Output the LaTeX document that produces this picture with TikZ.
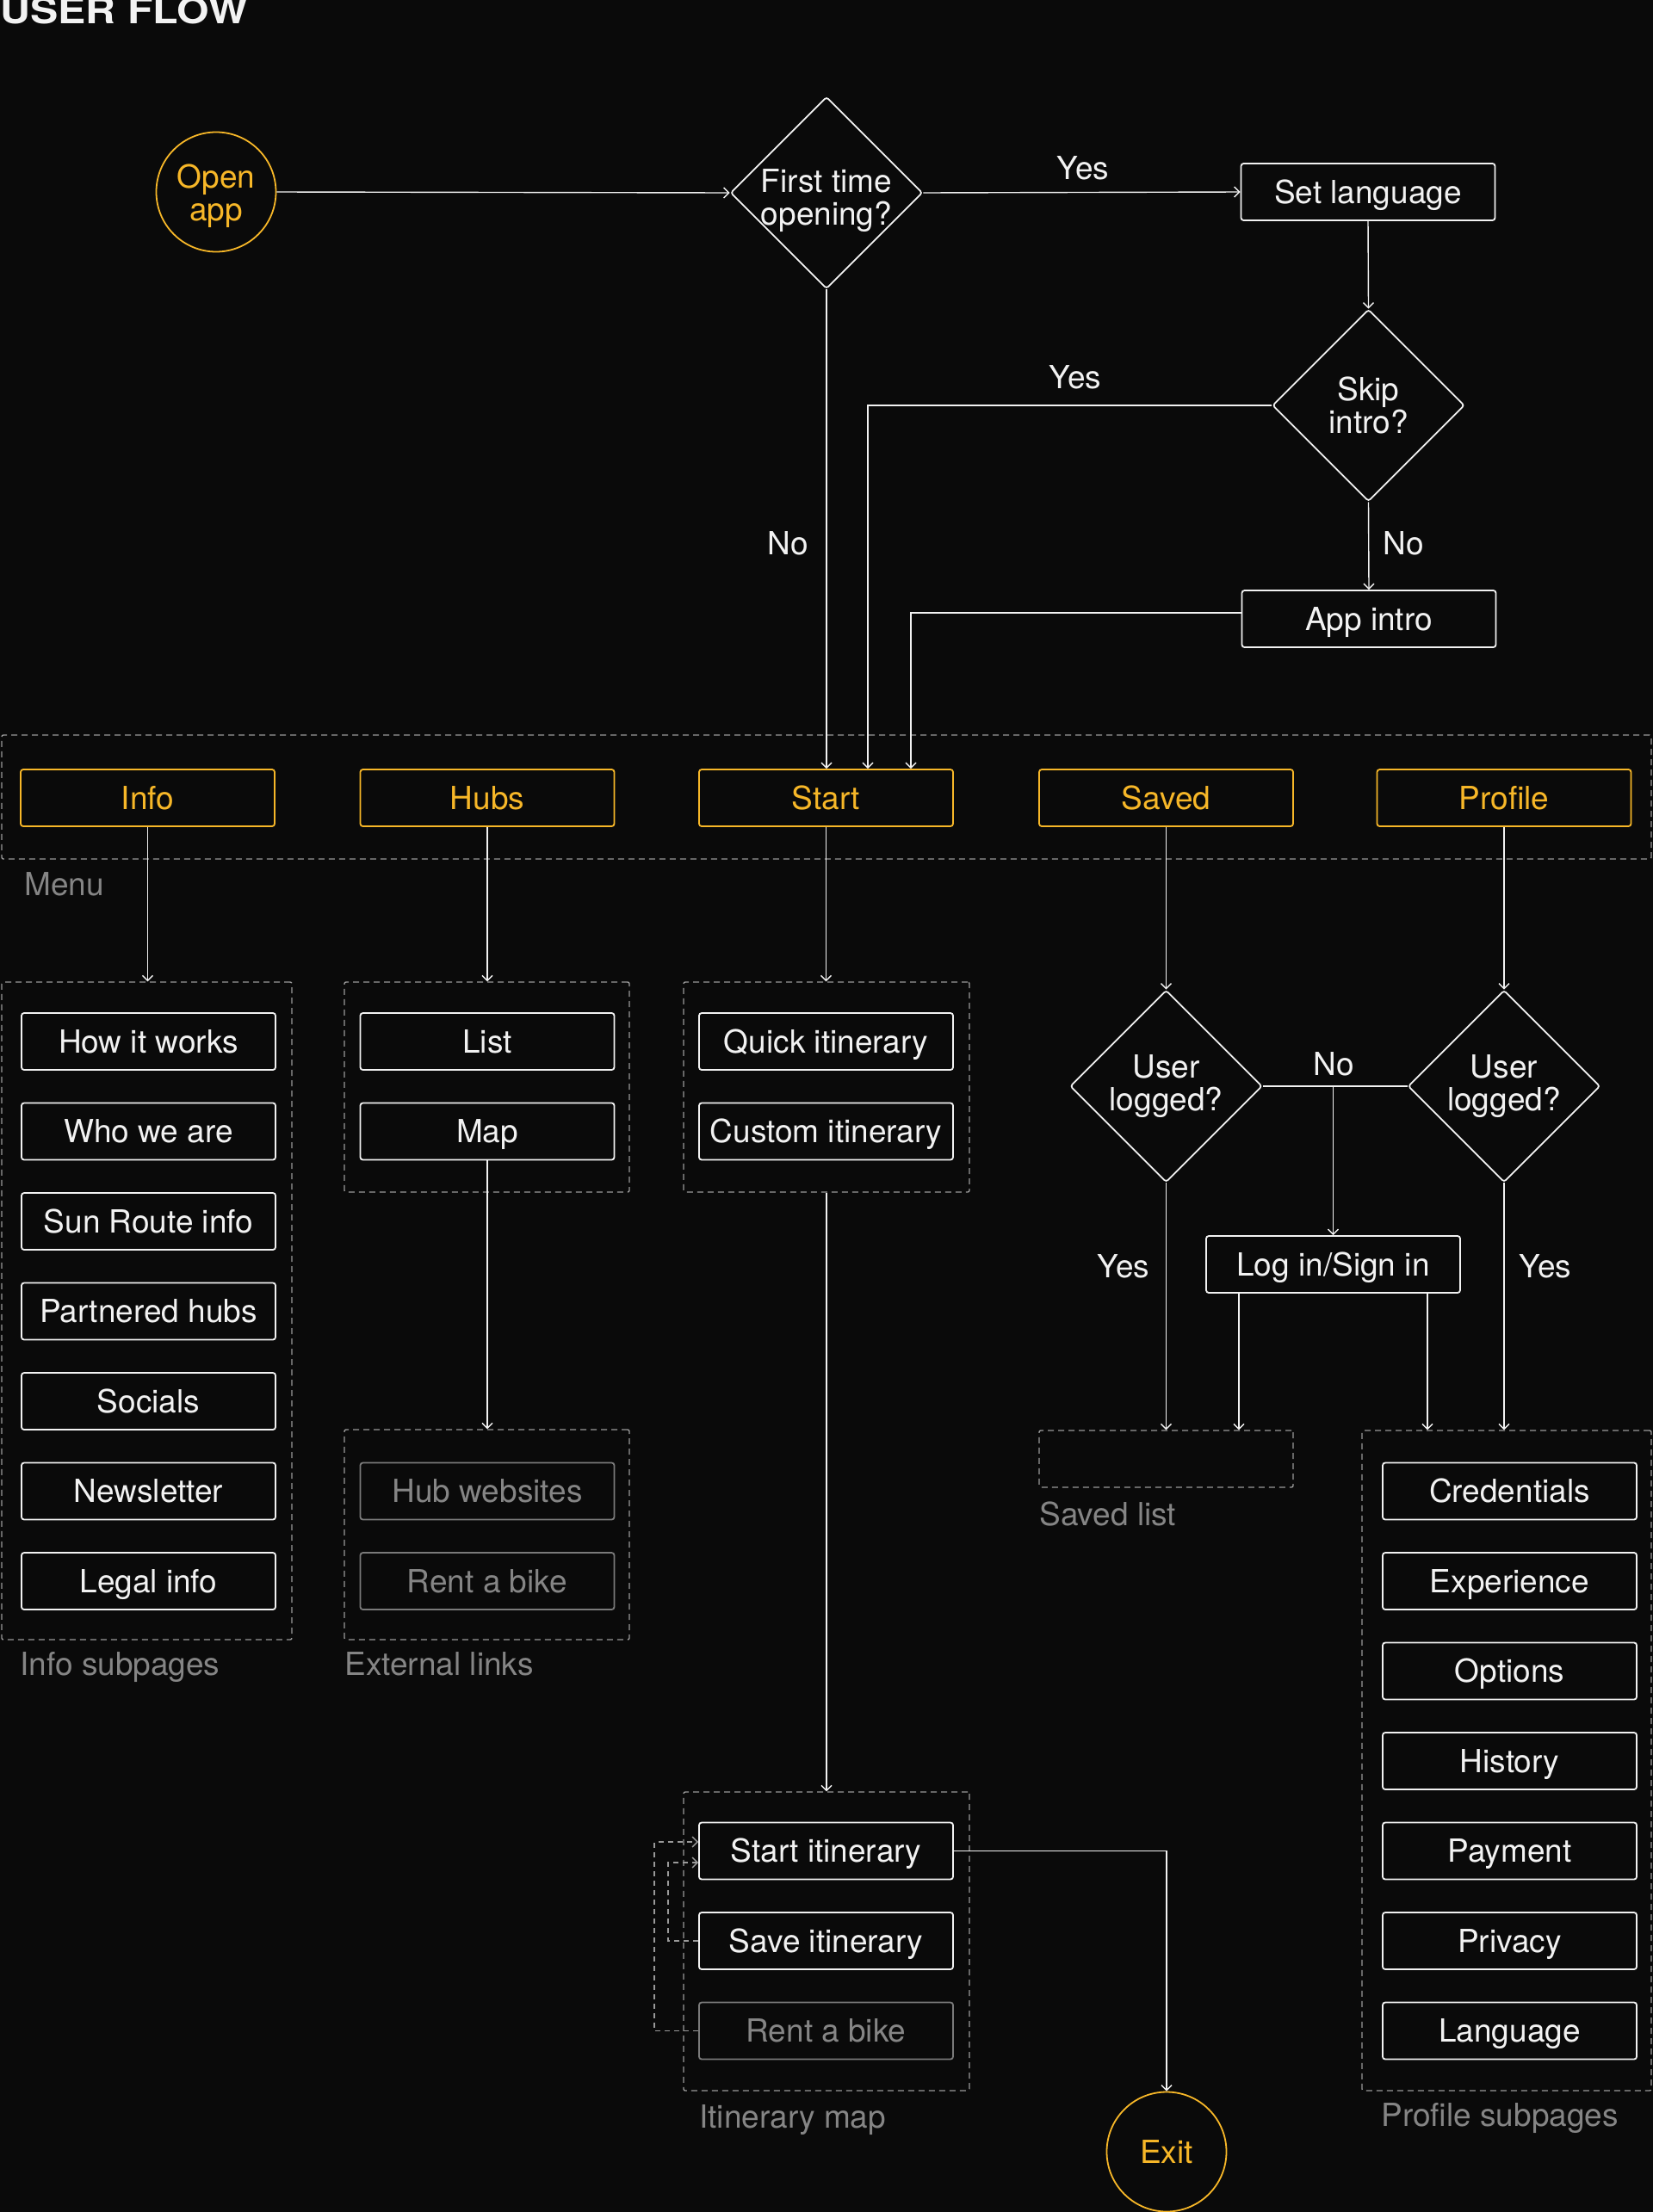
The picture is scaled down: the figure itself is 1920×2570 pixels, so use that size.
\documentclass[tikz,border=0pt]{standalone}
\usepackage{fontspec}
\usepackage{graphicx}
\setmainfont{TeX Gyre Heros}
\usetikzlibrary{shapes.geometric,arrows.meta,calc,fit}
\definecolor{bg}{HTML}{0A0A0A}
\definecolor{orng}{HTML}{F7B728}
\definecolor{wht}{HTML}{F2F2F2}
\definecolor{gtxt}{HTML}{858585}
\definecolor{gline}{HTML}{9A9A9A}
\definecolor{gbox}{HTML}{7A7A7A}
\newcommand\fsz{\fontsize{18.5}{19}\selectfont}
\begin{document}
\begin{tikzpicture}[x=0.5pt,y=-0.5pt,
 every node/.style={font=\fsz, inner sep=0pt},
 box/.style={rectangle, rounded corners=1.5pt, draw=wht, line width=0.9pt, fill=bg, text=wht, minimum width=147.5pt, minimum height=33pt, text height=13.3pt, text depth=0pt},
 obox/.style={box, draw=orng, text=orng},
 gybox/.style={box, draw=gbox, text=gtxt},
 dia/.style={diamond, aspect=1, draw=wht, line width=0.9pt, fill=bg, minimum size=111.5pt, rounded corners=1.5pt},
 term/.style={circle, draw=orng, line width=0.9pt, text=orng, minimum size=69.5pt, align=center, fill=bg},
 grp/.style={rectangle, draw=gline, line width=0.7pt, dash pattern=on 3.5pt off 2.5pt, rounded corners=1pt},
 lbl/.style={text=gtxt, anchor=base west},
 elbl/.style={text=wht},
 arr/.style={draw=wht, line width=0.7pt, -{Straight Barb[length=3pt,width=6pt]}},
 ln/.style={draw=wht, line width=0.7pt},
 dloop/.style={draw=gline, line width=0.7pt, dash pattern=on 3pt off 2.5pt, -{Straight Barb[length=3pt,width=6pt]}},
]
\fill[bg] (0,0) rectangle (1920,2570);
\useasboundingbox (0,0) rectangle (1920,2570);

% title
\node[anchor=base west, text=wht, font=\fontsize{21}{21}\selectfont\bfseries] (title) at (0,27) {\scalebox{1.15}[1]{USER FLOW}};

% groups
\node[grp, fit={(2,854) (1918,998)}] (gmenu) {};
\node[grp, fit={(2,1141) (339,1905)}] (ginfo) {};
\node[grp, fit={(400,1141) (731,1385)}] (ghubs) {};
\node[grp, fit={(794,1141) (1126,1385)}] (gstart) {};
\node[grp, fit={(400,1661) (731,1905)}] (gext) {};
\node[grp, fit={(1207,1662) (1502,1728)}] (gsaved) {};
\node[grp, fit={(1582,1662) (1918,2429)}] (gprof) {};
\node[grp, fit={(794,2082) (1126,2429)}] (gitin) {};

% group labels
\node[lbl] (lmenu) at (28,1040) {Menu};
\node[lbl] (linfo) at (23,1946) {Info subpages};
\node[lbl] (lext) at (400,1946) {External links};
\node[lbl] (lsaved) at (1207,1772) {Saved list};
\node[lbl] (litin) at (812,2472) {Itinerary map};
\node[lbl] (lprof) at (1604,2470) {Profile subpages};

% top flow
\node[term, label={[text=orng,align=center,yshift=-2.5pt]center:Open\\app}] (openapp) at (251,223) {};
\node[dia, label={[elbl,align=center,yshift=-4.5pt]center:First time\\opening?}] (first) at (960,224) {};
\node[box] (setlang) at (1589,223) {Set language};
\node[dia, label={[elbl,align=center]center:Skip\\intro?}] (skip) at (1589.5,471) {};
\node[box] (appintro) at (1590,719) {App intro};

% menu
\node[obox] (info) at (171.5,927) {Info};
\node[obox] (hubs) at (566,927) {Hubs};
\node[obox] (start) at (959.5,927) {Start};
\node[obox] (saved) at (1354.5,927) {Saved};
\node[obox] (profile) at (1747,927) {Profile};

% info subpages
\node[box] (how) at (172.5,1210) {How it works};
\node[box] (who) at (172.5,1314.5) {Who we are};
\node[box] (sun) at (172.5,1419) {Sun Route info};
\node[box] (part) at (172.5,1523.5) {Partnered hubs};
\node[box] (soc) at (172.5,1628) {Socials};
\node[box] (news) at (172.5,1732.5) {Newsletter};
\node[box] (legal) at (172.5,1837) {Legal info};

% hubs
\node[box] (list) at (566,1210) {List};
\node[box] (map) at (566,1314.5) {Map};
\node[gybox] (hubweb) at (566,1732.5) {Hub websites};
\node[gybox] (rentext) at (566,1837) {Rent a bike};

% start
\node[box] (quick) at (959.5,1210) {Quick itinerary};
\node[box] (custom) at (959.5,1314.5) {Custom itinerary};
\node[box] (startitin) at (959.5,2150.5) {Start itinerary};
\node[box] (saveitin) at (959.5,2255) {Save itinerary};
\node[gybox] (rentitin) at (959.5,2359.5) {Rent a bike};
\node[term] (exit) at (1355,2500) {Exit};

% saved / profile
\node[dia, label={[elbl,align=center]center:User\\logged?}] (d1) at (1354.5,1262) {};
\node[dia, label={[elbl,align=center]center:User\\logged?}] (d2) at (1747,1262) {};
\node[box] (login) at (1548.5,1469) {Log in/Sign in};

\node[box] (cred) at (1753.5,1732.5) {Credentials};
\node[box] (exp) at (1753.5,1837) {Experience};
\node[box] (opt) at (1753.5,1941.5) {Options};
\node[box] (hist) at (1753.5,2046) {History};
\node[box] (pay) at (1753.5,2150.5) {Payment};
\node[box] (priv) at (1753.5,2255) {Privacy};
\node[box] (lang) at (1753.5,2359.5) {Language};

% edge labels
\node[elbl] (yes1) at (1258,195) {Yes};
\node[elbl] (yes2) at (1249,438) {Yes};
\node[elbl] (no1) at (915,631) {No};
\node[elbl] (no2) at (1630,631) {No};
\node[elbl] (no3) at (1549,1236) {No};
\node[elbl] (yes3) at (1305,1471) {Yes};
\node[elbl] (yes4) at (1795,1471) {Yes};

% connectors
\draw[arr] (openapp.east) -- (first.west);
\draw[arr] (first.east) -- (setlang.west);
\draw[arr] (setlang.south) -- (skip.north);
\draw[arr] (skip.south) -- (appintro.north);
\draw[arr] (skip.west) -| ($(start.north)+(48.5,0)$);
\draw[arr] ($(appintro.west)+(0,-7)$) -| ($(start.north)+(98.5,0)$);
\draw[arr] (first.south) -- (first.south |- start.north);

\draw[arr] (info.south) -- (info.south |- ginfo.north);
\draw[arr] (hubs.south) -- (hubs.south |- ghubs.north);
\draw[arr] (start.south) -- (start.south |- gstart.north);
\draw[arr] (saved.south) -- (d1.north);
\draw[arr] (profile.south) -- (d2.north);
\draw[ln] (d1.east) -- (d2.west);
\coordinate (jn) at (login.north |- d1.east);
\draw[arr] (jn) -- (login.north);
\draw[arr] (d1.south) -- (d1.south |- gsaved.north);
\coordinate (lsl) at ($(login.south)+(-109.5,0)$);
\coordinate (lsr) at ($(login.south)+(109.5,0)$);
\draw[arr] (lsl) -- (lsl |- gsaved.north);
\draw[arr] (lsr) -- (lsr |- gprof.north);
\draw[arr] (d2.south) -- (d2.south |- gprof.north);
\draw[arr] (map.south) -- (map.south |- gext.north);
\draw[arr] (gstart.south) -- (gstart.south |- gitin.north);
\draw[arr] (startitin.east) -| (exit.north);
\draw[dloop] (rentitin.west) -- ++(-51,0) |- ($(startitin.west)+(0,-10.5)$);
\draw[dloop] (saveitin.west) -- ++(-35,0) |- ($(startitin.west)+(0,13.5)$);
\end{tikzpicture}
\end{document}
